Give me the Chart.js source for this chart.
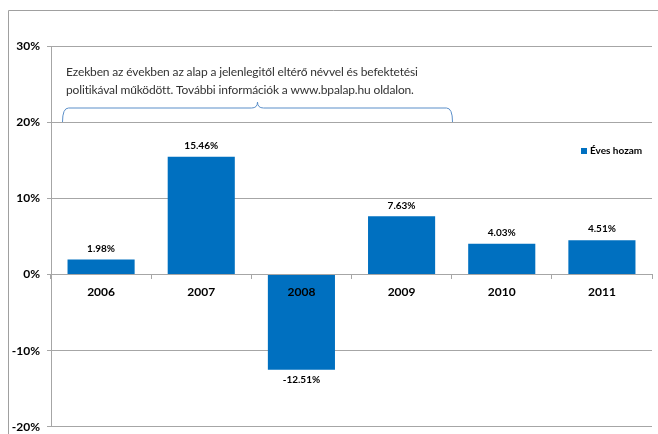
<!DOCTYPE html>
<html>
<head>
<meta charset="utf-8">
<script src="https://cdn.jsdelivr.net/npm/chart.js@4"></script>
<style>
  html, body { margin: 0; padding: 0; background: #fff; overflow: hidden; }
  #wrap { width: 658px; height: 434px; overflow: hidden; }
</style>
</head>
<body>
<div id="wrap"><canvas id="chart" width="658" height="441"></canvas></div>
<script>
const years = ['2006', '2007', '2008', '2009', '2010', '2011']
const returns = [1.98, 15.46, -12.51, 7.63, 4.03, 4.51]
const yTicks = [-20, -10, 0, 10, 20, 30]
const seriesName = 'Éves hozam'
const noteLines = [
  'Ezekben az években az alap a jelenlegitől eltérő névvel és befektetési',
  'politikával működött. További információk a www.bpalap.hu oldalon.'
]

const blue = '#0070C0'
const gridGray = '#a6a6a6'
const fontFamily = 'Lato, "Liberation Sans", sans-serif'

// frame, note with brace, value labels, legend
const extras = {
  id: 'extras',
  afterDraw(chart) {
    const c = chart.ctx
    const y = chart.scales.y
    c.save()

    // outer frame
    c.strokeStyle = '#a0a0a0'
    c.lineWidth = 1
    c.beginPath()
    c.moveTo(8.5, 441)
    c.lineTo(8.5, 10.5)
    c.lineTo(658, 10.5)
    c.stroke()

    // value labels
    c.font = 'bold 10px ' + fontFamily
    c.fillStyle = '#000'
    c.textAlign = 'center'
    const meta = chart.getDatasetMeta(0)
    meta.data.forEach((bar, i) => {
      const v = returns[i]
      const txt = v.toFixed(2) + '%'
      if (v >= 0) {
        c.textBaseline = 'bottom'
        c.fillText(txt, bar.x, bar.y - 6)
      } else {
        c.textBaseline = 'top'
        c.fillText(txt, bar.x, bar.y + 5)
      }
    })

    // legend
    c.fillStyle = blue
    c.fillRect(581, 148, 6, 6)
    c.fillStyle = '#000'
    c.textAlign = 'left'
    c.textBaseline = 'middle'
    c.fillText(seriesName, 590, 151)

    // note text
    c.font = '12px ' + fontFamily
    c.letterSpacing = '-0.15px'
    c.fillStyle = '#333'
    c.textBaseline = 'middle'
    c.fillText(noteLines[0], 66, 72)
    c.fillText(noteLines[1], 66, 90)
    c.letterSpacing = '0px'

    // brace down to the 20% gridline
    const base = Math.round(y.getPixelForValue(20))
    const top = base - 14
    const l = 62.5, r = 452.5, m = 257.5
    c.strokeStyle = '#5b8fc9'
    c.lineWidth = 1
    c.beginPath()
    c.moveTo(l, base)
    c.quadraticCurveTo(l, top, l + 6, top)
    c.lineTo(m - 6, top)
    c.quadraticCurveTo(m, top, m, top - 6)
    c.quadraticCurveTo(m, top, m + 6, top)
    c.lineTo(r - 6, top)
    c.quadraticCurveTo(r, top, r, base)
    c.stroke()

    c.restore()
  }
}

new Chart(document.getElementById('chart'), {
  type: 'bar',
  data: {
    labels: years,
    datasets: [{
      label: seriesName,
      data: returns,
      backgroundColor: blue,
      borderWidth: 0,
      barPercentage: 0.67,
      categoryPercentage: 1
    }]
  },
  options: {
    responsive: false,
    animation: false,
    layout: { padding: { left: 0, top: 46, right: 6, bottom: 0 } },
    plugins: { legend: { display: false }, tooltip: { enabled: false } },
    scales: {
      x: {
        position: { y: 0 },
        afterFit: axis => { axis.height = 0 },
        grid: { drawOnChartArea: false, offset: true, tickLength: 4, color: gridGray },
        border: { color: gridGray },
        ticks: { z: 1, color: '#000', padding: 6, font: { family: fontFamily, size: 12, weight: 'bold' } }
      },
      y: {
        min: -20,
        max: 30,
        afterBuildTicks: axis => { axis.ticks = yTicks.map(v => ({ value: v })) },
        afterFit: axis => { axis.width = 51 },
        grid: { color: gridGray, tickLength: 4 },
        border: { color: gridGray },
        ticks: {
          color: '#000',
          padding: 7,
          font: { family: fontFamily, size: 12, weight: 'bold' },
          callback: v => v + '%'
        }
      }
    }
  },
  plugins: [extras]
})
</script>
</body>
</html>
